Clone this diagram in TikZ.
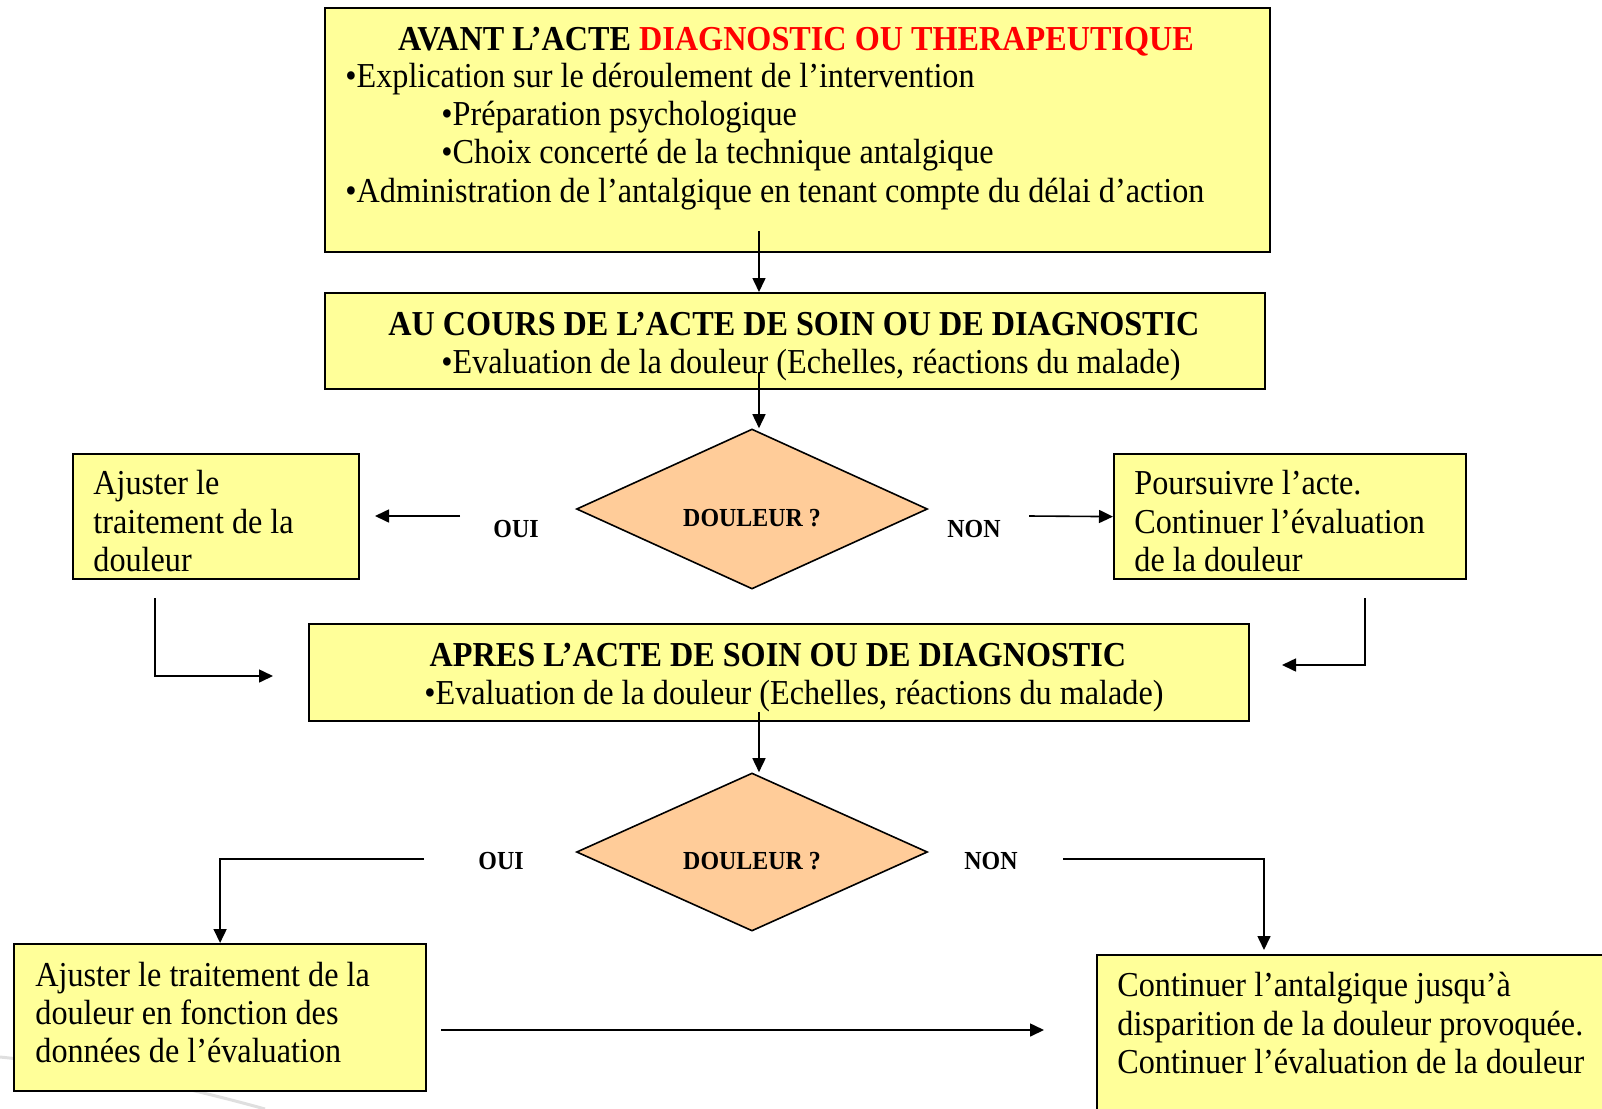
\documentclass[tikz,border=0pt]{standalone}
\usepackage{fontspec}
\setmainfont{Liberation Serif}[FakeStretch=0.92]
\usetikzlibrary{shapes.geometric,arrows.meta}
\tikzset{
  box-yellow/.style={
    draw=black,
    fill=boxyellow,
    line width=1.1pt,
    inner sep=0pt,
    anchor=north west
  },
  node-question/.style={diamond, draw=black, fill=diapeach, line width=0.8pt, inner sep=0pt},
  box-text/.style={anchor=mid west, inner sep=0pt, yshift=-3pt, font=\fontsize{17.5}{20}\selectfont},
  box-title/.style={anchor=mid, inner sep=0pt, yshift=-3pt, font=\fontsize{17.5}{20}\selectfont\bfseries},
  answer/.style={anchor=mid, inner sep=0pt, yshift=-1.5pt, font=\fontsize{13}{15}\selectfont\bfseries},
  link-arrow/.style={line width=0.8pt, -{Triangle[length=7pt, width=6.5pt]}}
}
\definecolor{boxyellow}{RGB}{255,255,153}
\definecolor{diapeach}{RGB}{255,204,153}
\definecolor{titlered}{RGB}{255,0,0}

\begin{document}
\begin{tikzpicture}[x=0.5pt, y=-0.5pt]
  \useasboundingbox (0,0) rectangle (1602,1109);

  % faint swoosh of the slide background
  \draw[gray!25, line width=1.5pt] (0,1057) .. controls (90,1066) and (190,1088) .. (265,1109);

  % 1. Before the act
  \node[box-yellow, minimum width=472.5pt, minimum height=122pt] (avant) at (324,7) {};
  \node[box-title] (avant-title) at (796,40) {AVANT L’ACTE \textcolor{titlered}{DIAGNOSTIC OU THERAPEUTIQUE}};
  \node[box-text] (avant-1) at (345,77) {•Explication sur le déroulement de l’intervention};
  \node[box-text] (avant-2) at (441,115) {•Préparation psychologique};
  \node[box-text] (avant-3) at (441,153) {•Choix concerté de la technique antalgique};
  \node[box-text] (avant-4) at (345,192) {•Administration de l’antalgique en tenant compte du délai d’action};

  % 2. During the act
  \node[box-yellow, minimum width=470pt, minimum height=48pt] (cours) at (324,292) {};
  \node[box-title] (cours-title) at (794,325) {AU COURS DE L’ACTE DE SOIN OU DE DIAGNOSTIC};
  \node[box-text] (cours-1) at (441,363) {•Evaluation de la douleur (Echelles, réactions du malade)};

  % first question
  \node[node-question, minimum width=175.5pt, minimum height=80pt] (q1) at (752,509) {};
  \node[answer] (q1-text) at (752,519) {DOULEUR ?};
  \node[answer] (q1-oui) at (516,530) {OUI};
  \node[answer] (q1-non) at (974,530) {NON};

  \node[box-yellow, minimum width=143pt, minimum height=62.5pt] (ajust1) at (72,453) {};
  \foreach \t [count=\i] in {Ajuster le, traitement de la, douleur}
    \node[box-text] (ajust1-\i) at (93,{484+38.5*(\i-1)}) {\t};

  \node[box-yellow, minimum width=176pt, minimum height=62.5pt] (pours) at (1113,453) {};
  \foreach \t [count=\i] in {Poursuivre l’acte., Continuer l’évaluation, de la douleur}
    \node[box-text] (pours-\i) at (1134,{484+38.5*(\i-1)}) {\t};

  % 3. After the act
  \node[box-yellow, minimum width=470pt, minimum height=48.5pt] (apres) at (308,623) {};
  \node[box-title] (apres-title) at (778,656) {APRES L’ACTE DE SOIN OU DE DIAGNOSTIC};
  \node[box-text] (apres-1) at (424,694) {•Evaluation de la douleur (Echelles, réactions du malade)};

  % second question
  \node[node-question, minimum width=175.5pt, minimum height=79pt] (q2) at (752,852) {};
  \node[answer] (q2-text) at (752,862) {DOULEUR ?};
  \node[answer] (q2-oui) at (501,862) {OUI};
  \node[answer] (q2-non) at (991,862) {NON};

  \node[box-yellow, minimum width=206pt, minimum height=73.5pt] (ajust2) at (13,943) {};
  \foreach \t [count=\i] in {Ajuster le traitement de la, douleur en fonction des, données de l’évaluation}
    \node[box-text] (ajust2-\i) at (35,{976+38*(\i-1)}) {\t};

  \node[box-yellow, minimum width=260pt, minimum height=86pt] (contin) at (1096,954) {};
  \foreach \t [count=\i] in {Continuer l’antalgique jusqu’à, disparition de la douleur provoquée., Continuer l’évaluation de la douleur}
    \node[box-text] (contin-\i) at (1117,{986+38.5*(\i-1)}) {\t};

  % free ends of the connectors
  \coordinate (a1) at (759,231);
  \coordinate (a2) at (759,373);
  \coordinate (a3) at (759,712);
  \coordinate (o1s) at (460,516);
  \coordinate (o1e) at (375,516);
  \coordinate (n1s) at (1029,516);
  \coordinate (l1s) at (155,598);
  \coordinate (l1e) at (273,676);
  \coordinate (r1s) at (1365,598);
  \coordinate (r1e) at (1282,665);
  \coordinate (o2s) at (424,859);
  \coordinate (n2s) at (1063,859);
  \coordinate (n2e) at (1264,950);
  \coordinate (b1s) at (441,1030);
  \coordinate (b1e) at (1044,1030);

  % connectors
  \draw[link-arrow] (a1) -- (a1 |- cours.north);
  \draw[link-arrow] (a2) -- (a2 |- q1.north);
  \draw[link-arrow] (o1s) -- (o1e);
  \draw[link-arrow] (n1s) -- (pours.west);
  \draw[link-arrow] (l1s) |- (l1e);
  \draw[link-arrow] (r1s) |- (r1e);
  \draw[link-arrow] (a3) -- (a3 |- q2.north);
  \draw[link-arrow] (o2s) -| (ajust2.north);
  \draw[link-arrow] (n2s) -| (n2e);
  \draw[link-arrow] (b1s) -- (b1e);

\end{tikzpicture}
\end{document}
